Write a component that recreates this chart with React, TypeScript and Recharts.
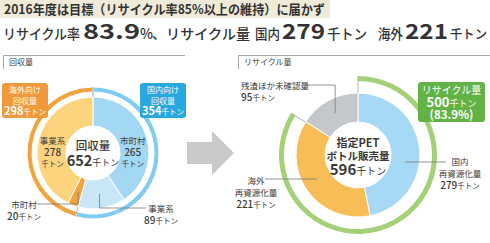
import { PieChart, Pie, Cell } from "recharts";

// 回収量（千トン）
const collectOuterNames = ["国内向け", "海外向け"];
const collectOuterValues = [354, 298];
const collectInnerNames = ["市町村", "事業系", "市町村", "事業系"];
const collectInnerValues = [265, 89, 20, 278];
const collectTotal = 652;

// 指定PETボトル販売量の内訳（千トン）
const salesNames = [["国内", "再資源化量"], ["海外", "再資源化量"], ["残渣ほか未確認量"]];
const salesValues = [279, 221, 95];
const salesTotal = 596;

// リサイクル量（千トン）とリサイクル率
const recycleNames = ["リサイクル量", "その他"];
const recycleValues = [500, 96];
const recycleRate = 83.9;
const targetRate = 85;
const fiscalYear = 2016;

const collectOuterColors = ["#80cdf1", "#f2a33d"];
const collectInnerColors = ["#a3d8f4", "#c8e6f6", "#f2a33d", "#fdd47e"];
const salesColors = ["#a6d9f5", "#f8bd57", "#c5c8cb"];
const recycleColors = ["#a4d178", "transparent"];

const ink = "#3a3a3a";
const font = "'Noto Sans CJK JP', 'Noto Sans', sans-serif";

// donut geometry
const L = { cx: 93, cy: 153, ringOuter: 66, ringInner: 61, pieOuter: 56, pieInner: 27 };
const R = { cx: 358, cy: 155, ringOuter: 79, ringInner: 74, pieOuter: 62, pieInner: 33 };

const RAD = Math.PI / 180;
const polar = (cx: number, cy: number, r: number, angle: number) => ({
  x: cx + r * Math.cos(-angle * RAD),
  y: cy + r * Math.sin(-angle * RAD),
});

const toRows = (names: string[], values: number[]) => names.map((name, i) => ({ name, value: values[i] }));
const collectOuter = toRows(collectOuterNames, collectOuterValues);
const collectInner = toRows(collectInnerNames, collectInnerValues);
const sales = salesValues.map((value, i) => ({ name: salesNames[i].join(""), value }));
const recycle = toRows(recycleNames, recycleValues);

// label placement (layout only)
const collectLabelLayout: any[] = [
  { kind: "inside" },
  { kind: "elbow", elbowY: 208, endX: 146, tx: 161, ty: 212, anchor: "middle" },
  { kind: "elbow", elbowY: 204, endX: 37, tx: 24, ty: 207.5, anchor: "middle" },
  { kind: "inside" },
];
const salesLabelLayout: any[] = [
  { kind: "flat", y: 162, endX: 446, tx: 460, ty: 165, anchor: "middle" },
  { kind: "flat", y: 179, endX: 265, tx: 256, ty: 184, anchor: "middle" },
  { kind: "elbow", elbowY: 85, endX: 305, tx: 241, ty: 89, anchor: "start" },
];

const Amount = ({ v, size = 10, unit = 7.5, weight = 500 }: any) => (
  <>
    <tspan fontSize={size} fontWeight={weight}>{v}</tspan>
    <tspan fontSize={unit}>千トン</tspan>
  </>
);

const makeLabel = (names: string[][], values: number[], layout: any[]) => (p: any) => {
  const { cx, cy, midAngle, innerRadius, outerRadius, index } = p;
  const lay = layout[index];
  const rm = (innerRadius + outerRadius) / 2;
  const a = polar(cx, cy, rm, midAngle);
  const lines = names[index];
  if (lay.kind === "inside") {
    return (
      <g key={`l${index}`}>
        <text x={a.x} y={cy - 9} textAnchor="middle" fontSize={8.5} fill={ink} fontFamily={font}>{lines[0]}</text>
        <text x={a.x} y={cy + 3} textAnchor="middle" fontSize={10} fontWeight={500} fill={ink} fontFamily={font}>{values[index]}</text>
        <text x={a.x} y={cy + 14} textAnchor="middle" fontSize={7.5} fill={ink} fontFamily={font}>千トン</text>
      </g>
    );
  }
  let path = "";
  if (lay.kind === "elbow") {
    path = `M${a.x},${a.y} L${a.x},${lay.elbowY} L${lay.endX},${lay.elbowY}`;
  } else {
    const dy = lay.y - cy;
    const side = Math.cos(-midAngle * RAD) >= 0 ? 1 : -1;
    const sx = cx + side * Math.sqrt(Math.max(rm * rm - dy * dy, 0));
    path = `M${sx},${lay.y} L${lay.endX},${lay.y}`;
  }
  return (
    <g key={`l${index}`}>
      <path d={path} stroke="#7a7a7a" strokeWidth={0.8} fill="none" />
      {lines.map((t, k) => (
        <text key={k} x={lay.tx} y={lay.ty + k * 12} textAnchor={lay.anchor} fontSize={8.5} fill={ink} fontFamily={font}>{t}</text>
      ))}
      <text x={lay.tx} y={lay.ty + lines.length * 12} textAnchor={lay.anchor} fill={ink} fontFamily={font}>
        <Amount v={values[index]} />
      </text>
    </g>
  );
};

// draws only the radial edge where each sector starts
const BoundaryTick = (props: any) => {
  const { cx, cy, innerRadius, outerRadius, startAngle } = props;
  const a = polar(cx, cy, innerRadius, startAngle);
  const b = polar(cx, cy, outerRadius, startAngle);
  return <line x1={a.x} y1={a.y} x2={b.x} y2={b.y} stroke="#9c9c9c" strokeWidth={0.8} />;
};

// small white-text boxes on the left donut
const SmallBox = ({ x, y, fill, lines, value }: any) => (
  <g>
    <rect x={x} y={y} width={46} height={35} rx={3} fill={fill} />
    {lines.map((t: string, k: number) => (
      <text key={k} x={x + 23} y={y + 10 + k * 10.5} textAnchor="middle" fontSize={8} fill="#fff">{t}</text>
    ))}
    <text x={x + 23} y={y + 32} textAnchor="middle" fill="#fff">
      <Amount v={value} size={11} unit={7.5} weight={700} />
    </text>
  </g>
);

const HeadText = ({ x, w, size, bold, children }: any) => (
  <text x={x} y={39} fontSize={size} fontWeight={bold ? 700 : 500} textLength={w} lengthAdjust="spacingAndGlyphs" fill="#333">
    {children}
  </text>
);

export default function App() {
  return (
    <div style={{ position: "relative", width: 490, height: 243, background: "#fff", fontFamily: font, overflow: "hidden" }}>
      <style>{"body{margin:0}"}</style>

      <div style={{ position: "absolute", left: 0, top: 0 }}>
        <PieChart width={490} height={243} margin={{ top: 0, right: 0, bottom: 0, left: 0 }}>
          {/* 回収量 */}
          <Pie data={collectOuter} dataKey="value" cx={L.cx} cy={L.cy} innerRadius={L.ringInner} outerRadius={L.ringOuter}
            startAngle={90} endAngle={-270} stroke="#fff" strokeWidth={1} isAnimationActive={false}>
            {collectOuter.map((_, i) => <Cell key={i} fill={collectOuterColors[i]} />)}
          </Pie>
          <Pie data={collectInner} dataKey="value" cx={L.cx} cy={L.cy} innerRadius={L.pieInner} outerRadius={L.pieOuter}
            startAngle={90} endAngle={-270} stroke="#fff" strokeWidth={1} isAnimationActive={false}
            labelLine={false} label={makeLabel(collectInnerNames.map((n) => [n]), collectInnerValues, collectLabelLayout)}>
            {collectInner.map((_, i) => <Cell key={i} fill={collectInnerColors[i]} />)}
          </Pie>
          <Pie data={collectOuter} dataKey="value" cx={L.cx} cy={L.cy} innerRadius={L.pieOuter} outerRadius={L.ringOuter}
            startAngle={90} endAngle={-270} fill="none" stroke="none" isAnimationActive={false}
            shape={BoundaryTick} inactiveShape={BoundaryTick} activeShape={BoundaryTick} />

          {/* 販売量とリサイクル量 */}
          <Pie data={recycle} dataKey="value" cx={R.cx} cy={R.cy} innerRadius={R.ringInner} outerRadius={R.ringOuter}
            startAngle={90} endAngle={-270} stroke="none" isAnimationActive={false}>
            {recycle.map((_, i) => <Cell key={i} fill={recycleColors[i]} />)}
          </Pie>
          <Pie data={sales} dataKey="value" cx={R.cx} cy={R.cy} innerRadius={R.pieInner} outerRadius={R.pieOuter}
            startAngle={90} endAngle={-270} stroke="#fff" strokeWidth={1} isAnimationActive={false}
            labelLine={false} label={makeLabel(salesNames, salesValues, salesLabelLayout)}>
            {sales.map((_, i) => <Cell key={i} fill={salesColors[i]} />)}
          </Pie>
          <Pie data={recycle} dataKey="value" cx={R.cx} cy={R.cy} innerRadius={R.pieOuter} outerRadius={R.ringOuter}
            startAngle={90} endAngle={-270} fill="none" stroke="none" isAnimationActive={false}
            shape={BoundaryTick} inactiveShape={BoundaryTick} activeShape={BoundaryTick} />
        </PieChart>
      </div>

      <svg width={490} height={243} style={{ position: "absolute", left: 0, top: 0, pointerEvents: "none" }} fontFamily={font}>
        {/* 見出し */}
        <rect x={0} y={0} width={330} height={18} fill="#efebd8" />
        <text x={4} y={14} fontSize={13} fontWeight={700} fill="#333" textLength={321} lengthAdjust="spacingAndGlyphs">
          {`${fiscalYear}年度は目標（リサイクル率${targetRate}%以上の維持）に届かず`}
        </text>
        <HeadText x={3} w={77} size={14}>リサイクル率</HeadText>
        <HeadText x={83} w={57} size={21} bold>{recycleRate.toFixed(1)}</HeadText>
        <HeadText x={140} w={13} size={14}>%</HeadText>
        <HeadText x={152} w={98} size={14}>、リサイクル量</HeadText>
        <HeadText x={255} w={25} size={14}>国内</HeadText>
        <HeadText x={282} w={43} size={21} bold>{salesValues[0]}</HeadText>
        <HeadText x={327} w={40} size={14}>千トン</HeadText>
        <HeadText x={378} w={25} size={14}>海外</HeadText>
        <HeadText x={405} w={43} size={21} bold>{salesValues[1]}</HeadText>
        <HeadText x={450} w={37} size={12.5}>千トン</HeadText>

        {/* 枠 */}
        <path d="M3.5,69 L3.5,55.5 L185,55.5" stroke="#a8a8a8" fill="none" />
        <path d="M238.5,69 L238.5,55.5 L490,55.5" stroke="#a8a8a8" fill="none" />
        <text x={9} y={65} fontSize={8} fill={ink}>回収量</text>
        <text x={244} y={65} fontSize={8} fill={ink}>リサイクル量</text>

        {/* 矢印 */}
        <polygon points="187,142 212,142 212,131 234,153 212,175 212,164 187,164" fill="#c9c9c9" />

        {/* 回収量ラベル */}
        <SmallBox x={2} y={83} fill="#f0993b" lines={[collectOuterNames[1], "回収量"]} value={collectOuterValues[1]} />
        <SmallBox x={140} y={83} fill="#27a8e0" lines={[collectOuterNames[0], "回収量"]} value={collectOuterValues[0]} />
        <text x={L.cx} y={L.cy - 3} textAnchor="middle" fontSize={11.5} fontWeight={500} fill={ink}>回収量</text>
        <text x={L.cx} y={L.cy + 13} textAnchor="middle" fill={ink}>
          <Amount v={collectTotal} size={14.5} unit={9} weight={700} />
        </text>

        {/* 販売量ラベル */}
        <text x={R.cx} y={R.cy - 8} textAnchor="middle" fontSize={11} fontWeight={700} fill={ink}>指定PET</text>
        <text x={R.cx} y={R.cy + 5} textAnchor="middle" fontSize={10.5} fontWeight={700} fill={ink}>ボトル販売量</text>
        <text x={R.cx} y={R.cy + 20} textAnchor="middle" fill={ink}>
          <Amount v={salesTotal} size={15} unit={10} weight={700} />
        </text>

        {/* リサイクル量ボックス */}
        <rect x={418} y={82} width={67} height={40} rx={3} fill="#62b246" />
        <text x={451.5} y={93.5} textAnchor="middle" fontSize={10} fill="#fff">{recycleNames[0]}</text>
        <text x={451.5} y={106.5} textAnchor="middle" fill="#fff">
          <Amount v={recycleValues[0]} size={13} unit={9} weight={700} />
        </text>
        <text x={451.5} y={119} textAnchor="middle" fontSize={11.5} fontWeight={700} fill="#fff">
          {`(${recycleRate.toFixed(1)}%)`}
        </text>
      </svg>
    </div>
  );
}
